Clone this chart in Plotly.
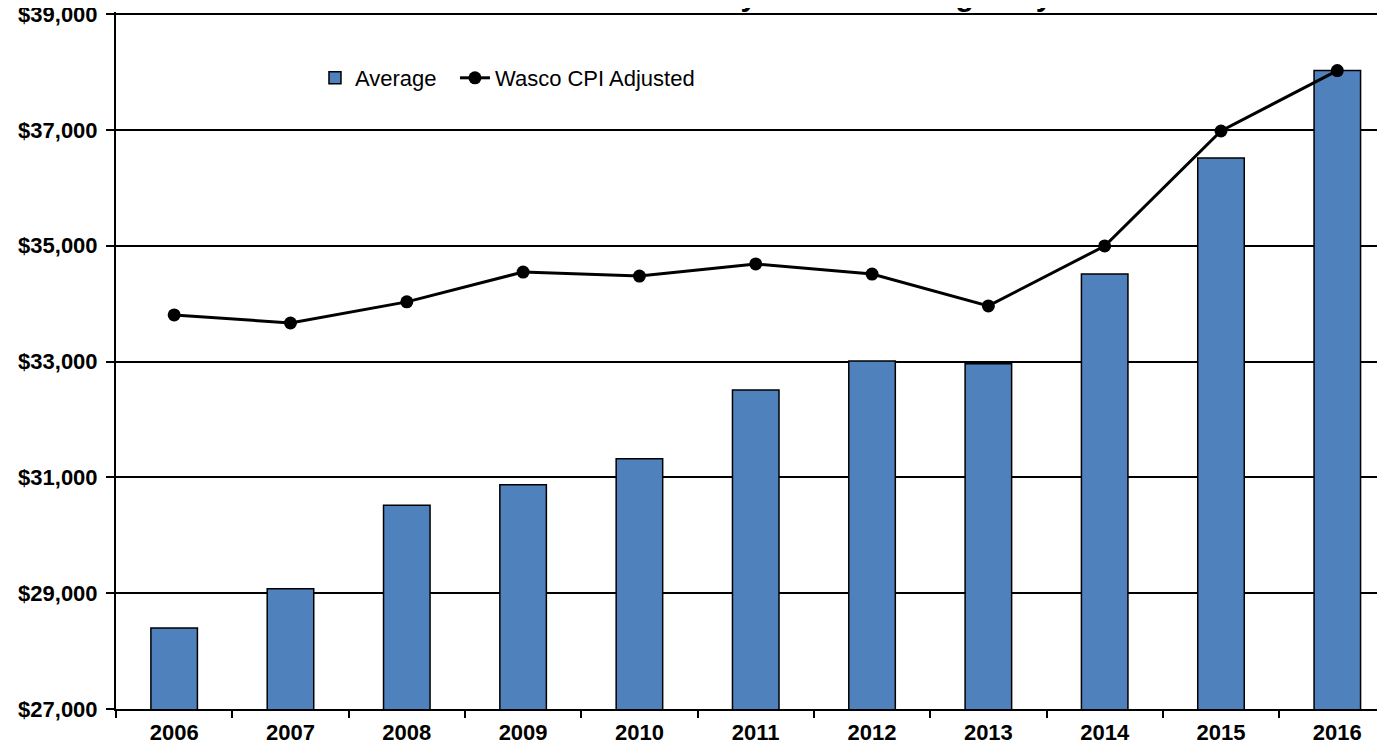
import plotly.graph_objects as go

years = ["2006", "2007", "2008", "2009", "2010", "2011", "2012", "2013", "2014", "2015", "2016"]
average = [28400, 29075, 30520, 30870, 31320, 32510, 33010, 32960, 34510, 36515, 38024]
cpi_adjusted = [33805, 33665, 34030, 34545, 34475, 34685, 34510, 33960, 34995, 36980, 38024]
title_text = "Wasco County Annual Average Pay"
last_label = "$38,024"

FONT = "Liberation Sans, Arial, sans-serif"

fig = go.Figure()
fig.add_trace(go.Bar(
    x=years, y=average, name="Average",
    marker=dict(color="#4F81BD", line=dict(color="black", width=1.5)),
    width=0.4, legend="legend",
))
fig.add_trace(go.Scatter(
    x=years, y=cpi_adjusted, name="Wasco CPI Adjusted",
    mode="lines+markers",
    line=dict(color="black", width=3),
    marker=dict(color="black", size=13),
    legend="legend2",
))

fig.add_annotation(
    x=years[-1], y=cpi_adjusted[-1], text=last_label, showarrow=False,
    yanchor="bottom", yshift=7,
    font=dict(family=FONT, size=22, color="black", weight="bold"),
)

fig.add_annotation(
    xref="paper", yref="paper", x=0.54, y=1.0238, text=title_text,
    showarrow=False, xanchor="center", yanchor="middle",
    font=dict(family=FONT, size=30, color="black", weight="bold"),
)

legend_common = dict(
    orientation="h", y=0.9053, xanchor="left", yanchor="middle",
    font=dict(family=FONT, size=22, color="black"),
    bgcolor="rgba(0,0,0,0)", itemwidth=30,
)

fig.update_layout(
    width=1377, height=740,
    margin=dict(l=108, r=0, t=4, b=39, pad=0, autoexpand=False),
    paper_bgcolor="white", plot_bgcolor="white",
    font=dict(family=FONT, color="black"),
    showlegend=True,
    legend=dict(x=0.1568, **legend_common),
    legend2=dict(x=0.2671, **legend_common),
    bargap=0.6,
)

fig.update_xaxes(
    type="category", range=[-0.5, 10.41], automargin=False,
    showline=True, linecolor="black", linewidth=2,
    ticks="outside", tickson="boundaries", ticklen=7, tickwidth=2, tickcolor="black",
    tickfont=dict(family=FONT, size=22, color="black", weight="bold"),
    ticklabelstandoff=3,
    showgrid=False,
)
fig.update_yaxes(
    range=[27000, 39035], dtick=2000, tick0=27000, automargin=False,
    tickformat="$,.0f",
    showline=True, linecolor="black", linewidth=2,
    ticks="outside", ticklen=8, tickwidth=2, tickcolor="black",
    tickfont=dict(family=FONT, size=22, color="black", weight="bold"),
    ticklabelstandoff=4, ticklabeloverflow="allow",
    showgrid=True, gridcolor="black", gridwidth=2,
    zeroline=False,
)

fig.write_html("out.html")
